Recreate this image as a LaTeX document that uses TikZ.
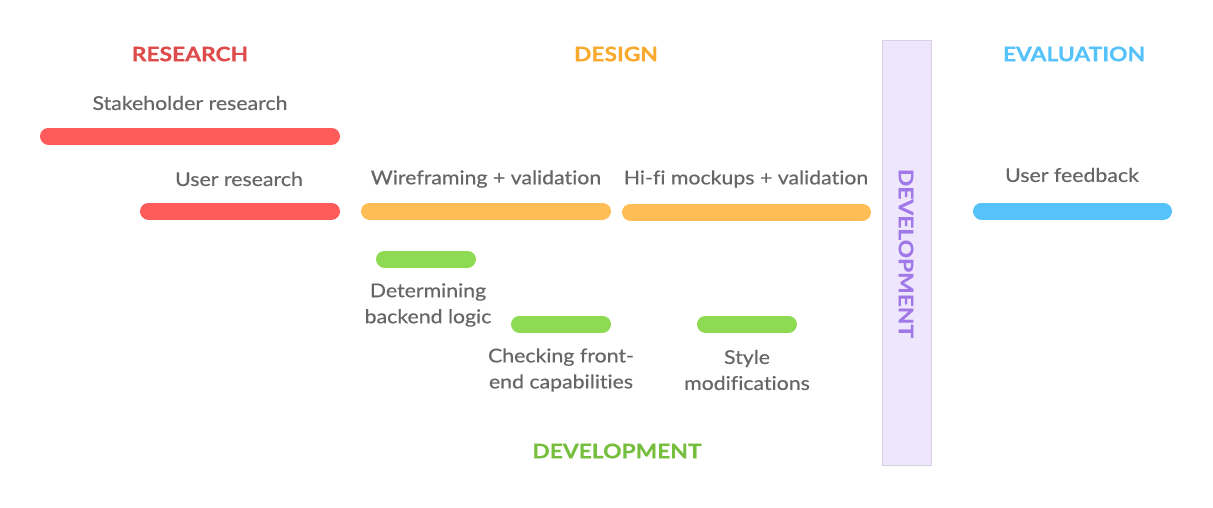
\documentclass[tikz,border=0pt]{standalone}
\usepackage{fontspec}
\setmainfont{Lato}
\newfontfamily\labelfont[FakeStretch=1.12, FakeBold=0.5, Ligatures=NoCommon]{Lato}
\newfontfamily\headfont[FakeStretch=1.14, FakeBold=0.6]{Lato}
\begin{document}
\definecolor{resred}{HTML}{DE4B4B}
\definecolor{desorange}{HTML}{F9AA2E}
\definecolor{evalblue}{HTML}{56C2FA}
\definecolor{devgreen}{HTML}{76BF3E}
\definecolor{barred}{HTML}{FF5B5B}
\definecolor{barorange}{HTML}{FFBE55}
\definecolor{barblue}{HTML}{56C2FA}
\definecolor{bargreen}{HTML}{8EDA52}
\definecolor{devfill}{HTML}{EEE6FD}
\definecolor{devedge}{HTML}{D6D2E0}
\definecolor{devtext}{HTML}{A078E8}
\definecolor{labelgray}{HTML}{666666}
\begin{tikzpicture}[x=1pt,y=-1pt,
  phase/.style={font=\headfont\fontsize{20}{24}\selectfont\bfseries},
  task/.style={font=\labelfont\fontsize{19}{26}\selectfont, text=labelgray, align=center, inner sep=0pt},
  bar/.style={line width=17pt, line cap=round}]
\useasboundingbox (0,0) rectangle (1213,507);

% phase headings
\node[phase, text=resred] (hres) at (190,54) {RESEARCH};
\node[phase, text=desorange] (hdes) at (616,54) {DESIGN};
\node[phase, text=evalblue] (heval) at (1074,54) {EVALUATION};
\node[phase, text=devgreen] (hdev) at (617,451) {DEVELOPMENT};

% development column
\node[draw=devedge, fill=devfill, line width=1pt, minimum width=49pt, minimum height=425pt, inner sep=0pt] (devcol) at (906.5,252.5) {};
\node[phase, text=devtext, rotate=-90] (devlabel) at (906,253.5) {DEVELOPMENT};

% research tasks
\node[task] (tstake) at (190,103) {Stakeholder research};
\coordinate (bstakeA) at (48.5,136);
\coordinate (bstakeB) at (331.5,136);
\draw[bar, barred] (bstakeA) -- (bstakeB);

\node[task] (tuser) at (239,179) {User research};
\coordinate (buserA) at (148.5,211);
\coordinate (buserB) at (331.5,211);
\draw[bar, barred] (buserA) -- (buserB);

% design tasks
\node[task] (twire) at (486,179) {Wireframing + validation};
\coordinate (bwireA) at (369.5,211);
\coordinate (bwireB) at (602.5,211);
\draw[bar, barorange] (bwireA) -- (bwireB);

\node[task] (thifi) at (746,179) {Hi-fi mockups + validation};
\coordinate (bhifiA) at (630.5,212);
\coordinate (bhifiB) at (862.5,212);
\draw[bar, barorange] (bhifiA) -- (bhifiB);

% evaluation task
\node[task] (tfeed) at (1072,175) {User feedback};
\coordinate (bfeedA) at (981.5,211);
\coordinate (bfeedB) at (1163.5,211);
\draw[bar, barblue] (bfeedA) -- (bfeedB);

% development tasks
\coordinate (bbackA) at (384.5,259);
\coordinate (bbackB) at (467.5,259);
\draw[bar, bargreen] (bbackA) -- (bbackB);
\node[task] (tback) at (428,305) {Determining\\backend logic};

\coordinate (bfrontA) at (519.5,324);
\coordinate (bfrontB) at (602.5,324);
\draw[bar, bargreen] (bfrontA) -- (bfrontB);
\node[task] (tfront) at (561,370) {Checking front-\\end capabilities};

\coordinate (bstyleA) at (705.5,324);
\coordinate (bstyleB) at (788.5,324);
\draw[bar, bargreen] (bstyleA) -- (bstyleB);
\node[task] (tstyle) at (747,370) {Style\\modifications};
\end{tikzpicture}
\end{document}
